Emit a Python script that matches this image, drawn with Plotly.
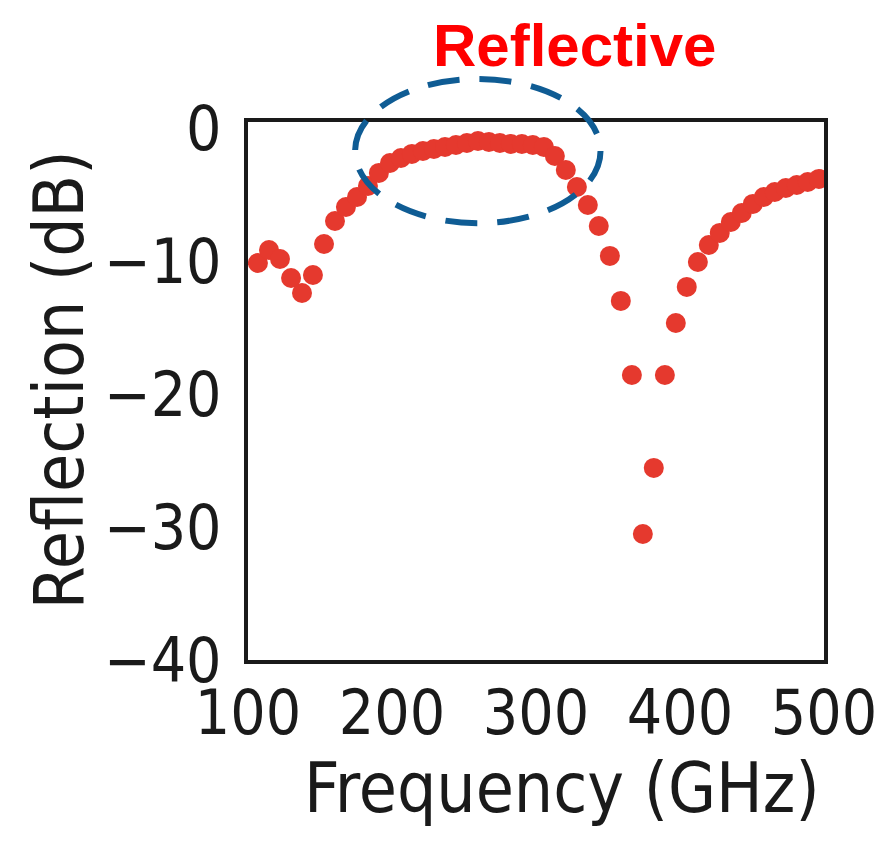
import plotly.graph_objects as go

# Frequency (GHz) and reflection (dB)
freq_ghz = [106.9, 114.6, 122.2, 129.9, 137.5, 145.1, 152.8, 160.4, 168.0, 175.7,
            183.3, 190.9, 198.6, 206.2, 213.8, 221.5, 229.1, 236.8, 244.4, 252.0,
            259.7, 267.3, 274.9, 282.6, 290.2, 297.8, 305.5, 313.1, 320.7, 328.4,
            336.0, 343.6, 351.3, 358.9, 366.6, 374.2, 381.8, 389.5, 397.1, 404.7,
            412.4, 420.0, 427.6, 435.3, 442.9, 450.6, 458.2, 465.8, 473.5, 481.1,
            488.7, 496.4]
reflection_db = [-10.15, -9.17, -9.85, -11.28, -12.41, -11.05, -8.72, -6.99, -5.94, -5.19,
                 -4.36, -3.38, -2.63, -2.26, -1.95, -1.73, -1.58, -1.43, -1.28, -1.13,
                 -0.98, -1.05, -1.13, -1.20, -1.20, -1.28, -1.43, -2.11, -3.16, -4.44,
                 -5.79, -7.37, -9.62, -13.0, -18.57, -30.53, -25.56, -18.57, -14.66, -11.95,
                 -10.08, -8.80, -7.89, -7.07, -6.39, -5.71, -5.19, -4.81, -4.51, -4.29,
                 -4.06, -3.83]

x_ticks = [100, 200, 300, 400, 500]
y_ticks = [0, -10, -20, -30, -40]

x_title = "Frequency (GHz)"
y_title = "Reflection (dB)"
band_label = "Reflective"

FONT = "DejaVu Sans Condensed, Roboto Condensed, sans-serif"

fig = go.Figure()
fig.add_trace(go.Scatter(
    x=freq_ghz, y=reflection_db, mode="markers",
    marker=dict(size=20, color="#E5392E", line=dict(width=0)),
    showlegend=False,
))

# the page body has an 8px margin, so the figure is offset by 8px
fig.update_layout(
    width=876, height=828,
    margin=dict(l=240, r=60, t=114, b=176),
    paper_bgcolor="white", plot_bgcolor="white",
    font=dict(family=FONT, color="#1a1a1a"),
)
fig.update_xaxes(
    range=[100, 500], tickvals=x_ticks, showgrid=False, zeroline=False,
    showline=True, linewidth=4, linecolor="#1a1a1a", mirror=True, ticks="",
    tickfont=dict(size=62, family=FONT), ticklabelstandoff=-4, automargin=False,
)
fig.update_yaxes(
    range=[-40, 0.45], tickvals=y_ticks, showgrid=False, zeroline=False,
    showline=True, linewidth=4, linecolor="#1a1a1a", mirror=True, ticks="",
    tickfont=dict(size=62, family=FONT), ticklabelstandoff=10, automargin=False,
)

# axis titles
fig.add_annotation(
    text=x_title, xref="paper", yref="paper", x=0.545, y=-0.238,
    xanchor="center", yanchor="middle", showarrow=False,
    font=dict(size=69, family=FONT, color="#1a1a1a"),
)
fig.add_annotation(
    text=y_title, xref="paper", yref="paper", x=-0.328, y=0.52,
    xanchor="center", yanchor="middle", showarrow=False, textangle=-90,
    font=dict(size=69, family=FONT, color="#1a1a1a"),
)

fig.add_shape(
    type="circle", xref="paper", yref="paper",
    x0=0.186, x1=0.612, y0=0.812, y1=1.08,
    line=dict(color="#0F5C94", width=6, dash="32px,20px"),
    layer="above",
)
fig.add_annotation(
    text="<b>" + band_label + "</b>", xref="paper", yref="paper",
    x=0.566, y=1.142, xanchor="center", yanchor="middle", showarrow=False,
    borderpad=0,
    font=dict(size=60, color="#FF0000", family="Liberation Sans, Arial, sans-serif"),
)

fig.write_html("out.html")
